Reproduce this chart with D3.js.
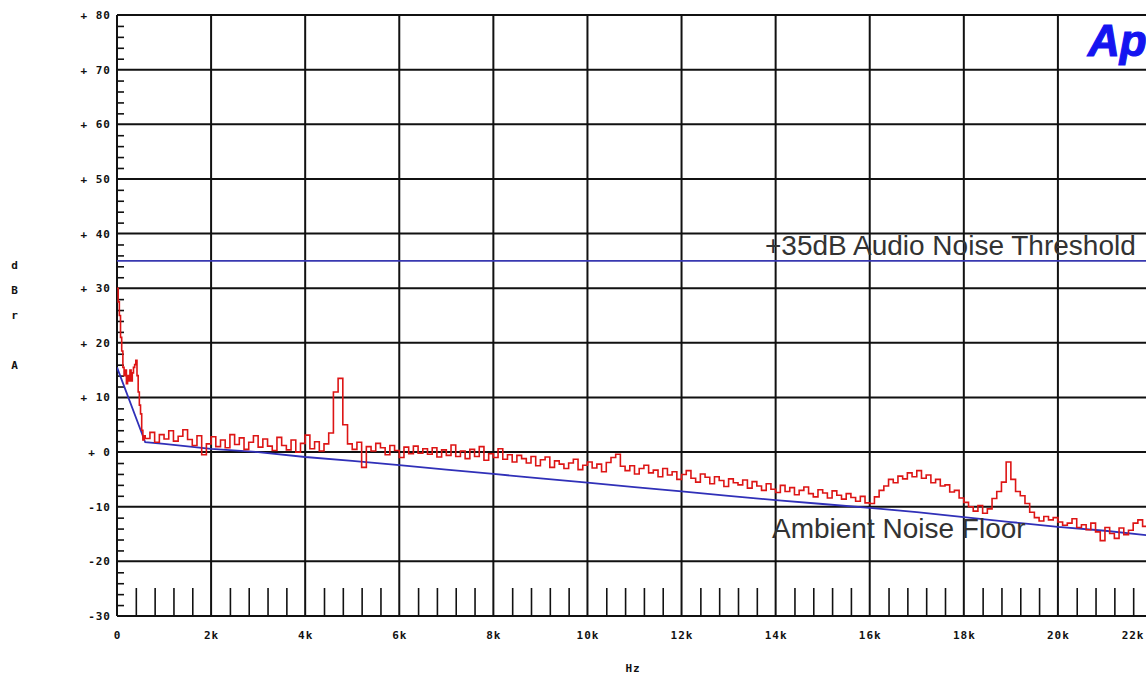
<!DOCTYPE html>
<html><head><meta charset="utf-8">
<script src="https://cdn.jsdelivr.net/npm/d3@7"></script>
<style>
body{margin:0;background:#fff;overflow:hidden}
.px{font-family:"DejaVu Sans Mono",monospace;font-weight:bold;font-size:11px;fill:#111;letter-spacing:1px}
.ann{font-family:"Liberation Sans",Arial,sans-serif;font-size:28px;fill:#333}
</style>
</head><body>
<svg id="c" width="1146" height="675"></svg>
<script>
// ---- data ----
const xTickValues = [0,2000,4000,6000,8000,10000,12000,14000,16000,18000,20000,22000];
const xTickLabels = ["0","2k","4k","6k","8k","10k","12k","14k","16k","18k","20k","22k"];
const yTickValues = [-30,-20,-10,0,10,20,30,40,50,60,70,80];
const yTickLabels = ["-30","-20","-10","+ 0","+ 10","+ 20","+ 30","+ 40","+ 50","+ 60","+ 70","+ 80"];
const yAxisLetters = ["d","B","r","","A"];
const xAxisTitle = "Hz";
const thresholdDb = 35;
const thresholdLabel = "+35dB Audio Noise Threshold";
const floorLabel = "Ambient Noise Floor";
const logoText = "Ap";

// ambient noise floor (blue)
const floorHz = [0,600,1000,2000,3000,4000,5000,6000,7000,8000,9000,10000,11000,12000,13000,14000,15000,16000,17000,18000,19000,20000,21000,22000];
const floorDb = [15.5,1.8,1.5,0.6,0.0,-0.9,-1.6,-2.4,-3.2,-4.0,-4.8,-5.6,-6.4,-7.2,-8.0,-8.8,-9.5,-10.2,-11.0,-11.9,-12.8,-13.7,-14.4,-15.3];

// measured spectrum (red) - low frequency part
const lowHz = [0,25,50,75,100,125,150,175,200,225,250,275,300,325,350,375,400,425,450,475,500,525,550,575];
const lowDb = [30,27.5,25,21,18.5,15.5,14,15,12.5,14,13,15,13,14.5,15.5,16,16.8,14,11,8.6,7,4,2.2,3];
// measured spectrum (red) - from 600 Hz in 100 Hz steps
const spectrumStartHz = 600;
const spectrumStepHz = 100;
const spectrumDb = [
 2.5,3.6,1.8,3.2,2.4,3.9,2.0,2.9,4.1,2.3,
 1.2,3.0,-0.5,1.5,2.8,1.0,2.2,0.8,3.2,1.4,
 2.6,0.5,1.8,3.0,0.9,2.4,1.1,0.3,2.7,1.2,
 0.4,2.2,0.0,1.6,3.1,0.6,1.9,0.2,1.5,3.5,
 11.0,13.5,5.0,1.5,0.5,1.8,-2.8,1.0,0.2,1.6,
 0.8,-0.5,1.2,0.3,-1.0,0.9,-0.3,1.1,-0.2,0.6,
 -0.4,0.8,-0.9,0.4,-0.6,1.3,-0.8,0.2,-1.2,0.5,
 -0.8,1.0,-1.5,-0.3,-1.0,0.6,-1.3,-0.5,-1.8,-0.6,
 -1.2,-2.0,-0.8,-2.5,-1.4,-0.9,-2.8,-1.6,-2.2,-3.0,
 -2.0,-1.3,-3.2,-2.4,-1.8,-2.9,-2.2,-3.6,-1.9,-1.0,
 -0.4,-2.6,-3.4,-2.5,-4.0,-3.0,-2.4,-3.8,-3.3,-4.5,
 -3.0,-4.2,-3.6,-5.0,-4.1,-3.4,-4.8,-5.5,-4.0,-4.6,
 -5.8,-4.5,-5.2,-6.3,-4.9,-5.6,-6.0,-5.1,-6.6,-5.4,
 -6.2,-7.0,-5.8,-6.8,-7.4,-6.1,-7.2,-6.5,-7.8,-7.0,
 -6.4,-7.6,-8.2,-6.9,-7.5,-8.4,-7.1,-7.9,-8.6,-7.6,
 -8.3,-9.0,-8.1,-9.3,-9.4,-8.2,-7.0,-6.2,-5.0,-5.6,
 -4.4,-4.9,-3.8,-4.5,-3.4,-4.8,-4.2,-5.6,-5.0,-6.2,
 -6.0,-7.3,-7.0,-8.4,-9.2,-10.0,-10.8,-9.8,-11.2,-10.4,
 -8.5,-7.2,-5.5,-1.8,-5.0,-7.2,-8.0,-9.4,-11.0,-12.0,
 -12.6,-11.8,-12.4,-12.0,-12.8,-13.4,-13.0,-12.2,-13.8,-13.3,
 -14.2,-13.0,-14.6,-16.2,-13.8,-14.9,-15.8,-13.9,-15.1,-14.3,
 -13.0,-12.4,-13.6,-14.2
];

// ---- drawing ----
const W = 1146, H = 675;
const svg = d3.select("#c");
svg.append("rect").attr("width",W).attr("height",H).attr("fill","#fff");

const x = d3.scaleLinear().domain([0,22000]).range([117,1152]);
const y = d3.scaleLinear().domain([-30,80]).range([616,15]);

svg.append("defs").append("clipPath").attr("id","plot")
  .append("rect").attr("x",117).attr("y",15).attr("width",W-117).attr("height",601);

// minor ticks
const minorX = d3.range(0,22001,400).filter(v => v % 2000 !== 0);
svg.append("g").attr("transform",`translate(0,${y(-30)})`)
  .call(d3.axisBottom(x).tickValues(minorX).tickSize(-28).tickFormat(""))
  .call(g => g.select(".domain").remove())
  .call(g => g.selectAll("line").attr("stroke","#111").attr("stroke-width",1.6));
const minorY = d3.range(-30,81,2).filter(v => v % 10 !== 0);
svg.append("g").attr("transform",`translate(${x(0)},0)`)
  .call(d3.axisLeft(y).tickValues(minorY).tickSize(-7).tickFormat(""))
  .call(g => g.select(".domain").remove())
  .call(g => g.selectAll("line").attr("stroke","#111").attr("stroke-width",1.6));

// grid
svg.append("g").selectAll("line").data(yTickValues).join("line")
  .attr("x1",x(0)).attr("x2",W).attr("y1",d=>y(d)).attr("y2",d=>y(d))
  .attr("stroke","#111").attr("stroke-width",2);
svg.append("g").selectAll("line").data(xTickValues).join("line")
  .attr("x1",d=>x(d)).attr("x2",d=>x(d)).attr("y1",y(80)).attr("y2",y(-30))
  .attr("stroke","#111").attr("stroke-width",2);

// axis labels
svg.append("g").attr("transform",`translate(${x(0)-6},0)`)
  .call(d3.axisLeft(y).tickValues(yTickValues).tickSize(0).tickPadding(0).tickFormat((d,i)=>yTickLabels[i]))
  .call(g => g.select(".domain").remove())
  .call(g => g.selectAll("text").attr("class","px").attr("font-size",null).attr("font-family",null).attr("fill",null));
const xa = svg.append("g").attr("transform",`translate(0,${y(-30)+12})`)
  .call(d3.axisBottom(x).tickValues(xTickValues).tickSize(0).tickFormat((d,i)=>xTickLabels[i]))
  .call(g => g.select(".domain").remove())
  .call(g => g.selectAll("text").attr("class","px").attr("font-size",null).attr("font-family",null).attr("fill",null));
xa.selectAll("text").filter(d => d === 22000).attr("text-anchor","end").attr("x",-8);

svg.append("text").attr("class","px").attr("x",633).attr("y",672).attr("text-anchor","middle").text(xAxisTitle);
svg.append("g").selectAll("text").data(yAxisLetters).join("text")
  .attr("class","px").attr("font-size",9).attr("x",15).attr("y",(d,i)=>269+i*25)
  .attr("text-anchor","middle").text(d=>d);

// threshold
svg.append("line").attr("x1",x(0)).attr("x2",W).attr("y1",y(thresholdDb)).attr("y2",y(thresholdDb))
  .attr("stroke","#3838b0").attr("stroke-width",1.6);

// floor
const plot = svg.append("g").attr("clip-path","url(#plot)");
const floorPts = floorHz.map((f,i)=>[f,floorDb[i]]);
plot.append("path").datum(floorPts)
  .attr("d", d3.line().x(d=>x(d[0])).y(d=>y(d[1])))
  .attr("fill","none").attr("stroke","#3030b8").attr("stroke-width",1.8);

// spectrum
const specPts = lowHz.map((f,i)=>[f,lowDb[i]])
  .concat(spectrumDb.map((v,i)=>[spectrumStartHz + i*spectrumStepHz, v]));
plot.append("path").datum(specPts)
  .attr("d", d3.line().x(d=>x(d[0])).y(d=>y(d[1])).curve(d3.curveStepAfter))
  .attr("fill","none").attr("stroke","#dd1515").attr("stroke-width",1.6);

// annotations
svg.append("text").attr("class","ann").attr("x",765).attr("y",255).text(thresholdLabel);
svg.append("text").attr("class","ann").attr("x",772).attr("y",538).text(floorLabel);

// logo
svg.append("text").attr("x",1088).attr("y",56)
  .attr("font-family","Liberation Sans, Arial, sans-serif").attr("font-weight","bold")
  .attr("font-style","italic").attr("font-size",44).attr("fill","#1414f0")
  .attr("stroke","#1414f0").attr("stroke-width",1.2).text(logoText);
</script>
</body></html>
